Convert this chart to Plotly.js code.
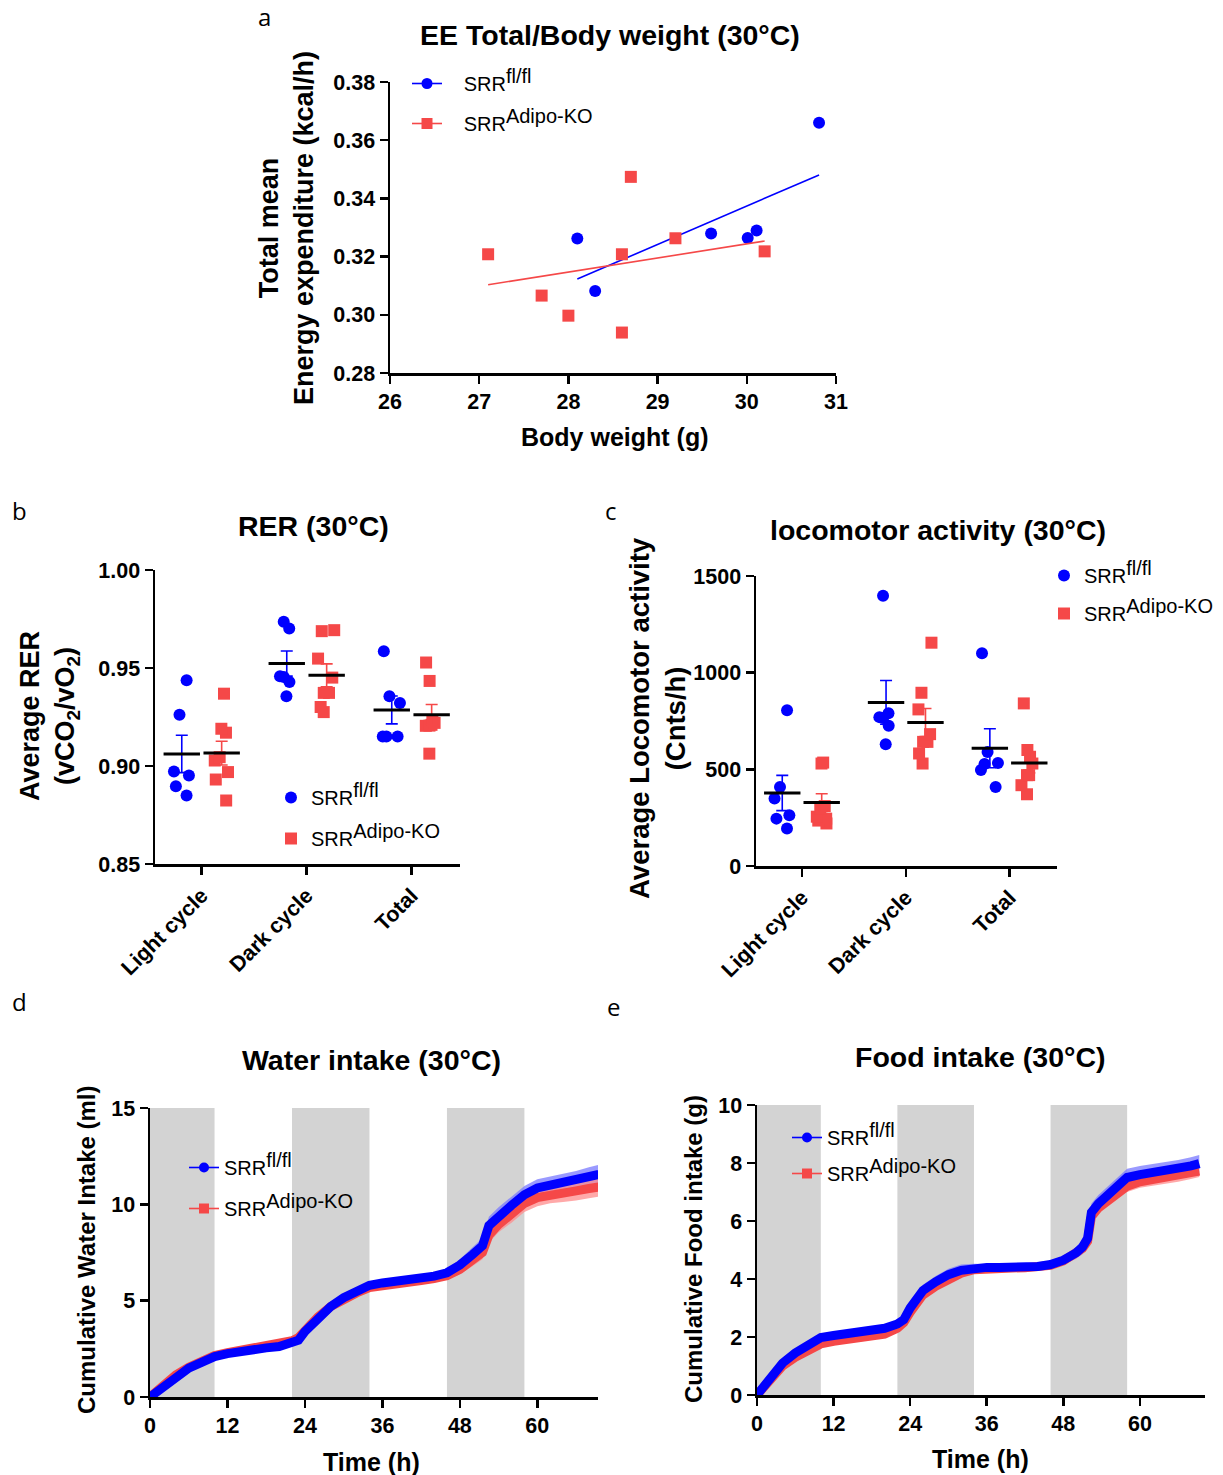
<!DOCTYPE html>
<html>
<head>
<meta charset="utf-8">
<script src="https://cdn.plot.ly/plotly-3.0.1.min.js"></script>
<style>html,body{margin:0;padding:0;background:#fff;}#chart{width:1223px;height:1475px;}</style>
</head>
<body>
<div id="chart"></div>
<script>
// ---------------- DATA ----------------
const seriesNames = ['SRR<sup><span style="font-size:20px">fl/fl</span></sup>', 'SRR<sup><span style="font-size:20px">Adipo-KO</span></sup>'];

// (a) EE total vs body weight
const eeBW_fl  = [28.10, 28.30, 29.60, 30.01, 30.11, 30.81];
const eeVal_fl = [0.3262, 0.3082, 0.3279, 0.3264, 0.3290, 0.3660];
const eeBW_ko  = [27.10, 27.70, 28.00, 28.60, 28.60, 28.70, 29.20, 30.20];
const eeVal_ko = [0.3208, 0.3066, 0.2997, 0.3208, 0.2939, 0.3474, 0.3263, 0.3218];
const eeXTicks = [26, 27, 28, 29, 30, 31];
const eeYTicks = [0.28, 0.30, 0.32, 0.34, 0.36, 0.38];

// (b) RER
const groupCats = ['Light cycle', 'Dark cycle', 'Total'];
const rer_fl_light = [0.9438, 0.9262, 0.8952, 0.8972, 0.8897, 0.8849];
const rer_ko_light = [0.9369, 0.9190, 0.9170, 0.9045, 0.9028, 0.8969, 0.8931, 0.8824];
const rer_fl_dark  = [0.9702, 0.9736, 0.9458, 0.9454, 0.9429, 0.9356];
const rer_ko_dark  = [0.9688, 0.9693, 0.9548, 0.9451, 0.9373, 0.9373, 0.9275, 0.9301];
const rer_fl_total = [0.9586, 0.9356, 0.9321, 0.9151, 0.9151, 0.9151];
const rer_ko_total = [0.9528, 0.9434, 0.9230, 0.9220, 0.9210, 0.9205, 0.9206, 0.9063];
const rerYTicks = [0.85, 0.90, 0.95, 1.00];

// (c) Locomotor activity
const loco_fl_light = [806, 409, 349, 263, 245, 194];
const loco_ko_light = [535, 530, 310, 295, 255, 245, 235, 220];
const loco_fl_dark  = [1398, 790, 770, 765, 725, 630];
const loco_ko_dark  = [1155, 896, 810, 682, 642, 642, 582, 530];
const loco_fl_total = [1100, 590, 533, 527, 496, 409];
const loco_ko_total = [841, 600, 565, 530, 470, 418, 371, 470];
const locoYTicks = [0, 500, 1000, 1500];

// (d) Cumulative water intake
const waterTime = [0,2,4,6,8,10,12,14,16,18,20,22,23,24,26,28,30,32,34,36,38,40,42,44,46,48,50,51.5,52.5,54,56,58,60,62,64,66,68,69.5];
const water_fl  = [0,0.55,1.1,1.5,1.8,2.1,2.25,2.38,2.47,2.55,2.62,2.8,2.95,3.4,4.1,4.7,5.15,5.5,5.8,5.92,6.0,6.08,6.17,6.27,6.45,6.85,7.4,7.85,8.9,9.4,9.95,10.5,10.85,11.0,11.12,11.25,11.42,11.55];
const water_fl_sem = [0,0.05,0.08,0.1,0.1,0.1,0.1,0.1,0.1,0.1,0.1,0.12,0.12,0.15,0.18,0.18,0.15,0.12,0.12,0.12,0.12,0.12,0.12,0.15,0.2,0.3,0.35,0.4,0.45,0.45,0.45,0.45,0.45,0.45,0.45,0.48,0.5,0.5];
const water_ko  = [0,0.58,1.15,1.55,1.85,2.15,2.3,2.43,2.53,2.62,2.72,2.92,3.08,3.45,4.15,4.7,5.1,5.4,5.68,5.8,5.88,5.96,6.05,6.15,6.3,6.62,7.1,7.5,8.4,8.95,9.5,10.05,10.35,10.5,10.6,10.7,10.82,10.9];
const water_ko_sem = [0,0.05,0.08,0.1,0.1,0.1,0.1,0.1,0.1,0.1,0.1,0.12,0.12,0.15,0.15,0.15,0.15,0.15,0.15,0.15,0.15,0.15,0.15,0.18,0.2,0.25,0.3,0.35,0.4,0.4,0.45,0.45,0.45,0.45,0.48,0.5,0.5,0.5];
const waterYTicks = [0, 5, 10, 15];

// (e) Cumulative food intake
const foodTime = [0,2,4,6,8,10,12,14,16,18,20,22,23,24,25,26,28,30,32,34,36,38,40,42,44,46,48,50,51,51.8,52.4,53.5,55,56.5,58,60,62,64,66,68,69.3];
const food_fl  = [0,0.6,1.1,1.45,1.75,1.98,2.05,2.1,2.15,2.2,2.3,2.45,2.6,3.0,3.3,3.6,3.9,4.15,4.3,4.38,4.4,4.4,4.4,4.41,4.43,4.5,4.65,4.9,5.1,5.4,6.3,6.6,6.9,7.2,7.5,7.6,7.66,7.72,7.8,7.9,7.98];
const food_fl_sem = [0,0.05,0.08,0.08,0.08,0.08,0.08,0.08,0.08,0.08,0.08,0.1,0.12,0.15,0.2,0.2,0.2,0.2,0.2,0.15,0.12,0.1,0.1,0.1,0.1,0.12,0.15,0.2,0.25,0.3,0.3,0.3,0.3,0.3,0.3,0.3,0.3,0.3,0.3,0.3,0.3];
const food_ko  = [0,0.55,1.0,1.3,1.55,1.76,1.85,1.9,1.95,2.0,2.1,2.3,2.5,2.85,3.15,3.45,3.75,4.0,4.2,4.32,4.36,4.37,4.38,4.39,4.4,4.47,4.62,4.85,5.05,5.3,6.15,6.45,6.7,6.95,7.2,7.35,7.42,7.48,7.55,7.65,7.72];
const food_ko_sem = [0,0.05,0.06,0.06,0.06,0.06,0.06,0.06,0.06,0.06,0.06,0.08,0.1,0.1,0.12,0.12,0.12,0.12,0.12,0.1,0.1,0.08,0.08,0.08,0.08,0.1,0.12,0.15,0.18,0.2,0.2,0.2,0.2,0.2,0.2,0.2,0.2,0.2,0.2,0.2,0.2];
const foodYTicks = [0, 2, 4, 6, 8, 10];
const timeTicks = [0, 12, 24, 36, 48, 60];
const darkPeriods = [[0, 10], [22, 34], [46, 58]];

// ---------------- STYLE ----------------
const W = 1223, H = 1475;
const px = x => x / W;
const py = y => 1 - y / H;
const BLUE = '#0000FF', RED = '#F54848';
const FONT = 'Liberation Sans, Arial, Helvetica, sans-serif';
const tickFont = {family: FONT, size: 21.5, color: '#000', weight: 'bold'};

function axis(domain, range, anchor, extra) {
  return Object.assign({
    domain: domain, range: range, anchor: anchor,
    showline: true, linewidth: 2.5, linecolor: '#000',
    ticks: 'outside', ticklen: 8, tickwidth: 2.5, tickcolor: '#000',
    showgrid: false, zeroline: false, fixedrange: true,
    tickfont: tickFont
  }, extra || {});
}

const mean = a => a.reduce((s, v) => s + v, 0) / a.length;
const sem = a => { const m = mean(a); return Math.sqrt(a.reduce((s, v) => s + (v - m) * (v - m), 0) / (a.length - 1) / a.length); };

const traces = [];

// ---- (a) scatter + linear fits
function fitLine(xs, ys) {
  const mx = mean(xs), my = mean(ys);
  let sxy = 0, sxx = 0;
  xs.forEach((x, i) => { sxy += (x - mx) * (ys[i] - my); sxx += (x - mx) * (x - mx); });
  const b = sxy / sxx, a0 = my - b * mx;
  const x0 = Math.min(...xs), x1 = Math.max(...xs);
  return {x: [x0, x1], y: [a0 + b * x0, a0 + b * x1]};
}
[[eeBW_fl, eeVal_fl, BLUE, 'circle'], [eeBW_ko, eeVal_ko, RED, 'square']].forEach(([xs, ys, col, sym], k) => {
  const f = fitLine(xs, ys);
  traces.push({type: 'scatter', mode: 'lines', x: f.x, y: f.y, xaxis: 'x', yaxis: 'y',
    line: {color: col, width: 1.6}, showlegend: false, hoverinfo: 'skip'});
  traces.push({type: 'scatter', mode: 'markers', x: xs, y: ys, xaxis: 'x', yaxis: 'y',
    marker: {color: col, size: 12, symbol: sym}, showlegend: false});
  traces.push({type: 'scatter', mode: 'lines+markers', x: [null], y: [null], xaxis: 'x', yaxis: 'y',
    name: '&nbsp;&nbsp;&nbsp;' + seriesNames[k], legend: 'legend', legendgroup: 'a' + k,
    line: {color: col, width: 1.6}, marker: {color: col, size: 11, symbol: sym}});
});

// ---- (b), (c) dot plots with mean ± SEM
function dotPanel(xa, ya, groupsFl, groupsKo, legendId) {
  const off = 0.19;
  [[groupsFl, BLUE, 'circle', -off], [groupsKo, RED, 'square', off]].forEach(([groups, col, sym, o], k) => {
    const xs = [], ys = [];
    groups.forEach((g, i) => g.forEach(v => { xs.push(i + o); ys.push(v); }));
    traces.push({type: 'box', x: xs, y: ys, xaxis: xa, yaxis: ya, width: 0.22,
      boxpoints: 'all', jitter: 0.8, pointpos: 0, line: {width: 0, color: 'rgba(0,0,0,0)'},
      fillcolor: 'rgba(0,0,0,0)', marker: {color: col, size: 12, symbol: sym}, showlegend: false, hoveron: 'points'});
    traces.push({type: 'scatter', mode: 'markers', xaxis: xa, yaxis: ya,
      x: groups.map((g, i) => i + o), y: groups.map(mean),
      error_y: {type: 'data', array: groups.map(sem), visible: true, color: col, thickness: 1.6, width: 6},
      marker: {symbol: 'line-ew', size: 26, color: '#000', line: {color: '#000', width: 3}},
      showlegend: false});
    traces.push({type: 'scatter', mode: 'markers', x: [null], y: [null], xaxis: xa, yaxis: ya,
      name: seriesNames[k], legend: legendId, legendgroup: legendId + k,
      marker: {color: col, size: 12, symbol: sym}});
  });
}
dotPanel('x2', 'y2', [rer_fl_light, rer_fl_dark, rer_fl_total], [rer_ko_light, rer_ko_dark, rer_ko_total], 'legend2');
dotPanel('x3', 'y3', [loco_fl_light, loco_fl_dark, loco_fl_total], [loco_ko_light, loco_ko_dark, loco_ko_total], 'legend3');

// ---- (d), (e) cumulative curves
function curvePanel(xa, ya, t, fl, flS, ko, koS, legendId) {
  const band = (m, s, col) => {
    traces.push({type: 'scatter', mode: 'lines', x: t, y: m.map((v, i) => v - s[i]), xaxis: xa, yaxis: ya,
      line: {width: 0, color: col}, showlegend: false, hoverinfo: 'skip'});
    traces.push({type: 'scatter', mode: 'lines', x: t, y: m.map((v, i) => v + s[i]), xaxis: xa, yaxis: ya,
      line: {width: 0, color: col}, fill: 'tonexty', fillcolor: col, showlegend: false, hoverinfo: 'skip'});
  };
  band(fl, flS, 'rgba(120,120,255,0.75)');
  band(ko, koS, 'rgba(255,140,140,0.75)');
  traces.push({type: 'scatter', mode: 'lines', x: t, y: ko, xaxis: xa, yaxis: ya,
    line: {color: RED, width: 9}, showlegend: false});
  traces.push({type: 'scatter', mode: 'lines', x: t, y: fl, xaxis: xa, yaxis: ya,
    line: {color: BLUE, width: 9}, showlegend: false});
  [[BLUE, 'circle'], [RED, 'square']].forEach(([col, sym], k) => {
    traces.push({type: 'scatter', mode: 'lines+markers', x: [null], y: [null], xaxis: xa, yaxis: ya,
      name: seriesNames[k], legend: legendId, legendgroup: legendId + k,
      line: {color: col, width: 1.6}, marker: {color: col, size: 10, symbol: sym}});
  });
}
curvePanel('x4', 'y4', waterTime, water_fl, water_fl_sem, water_ko, water_ko_sem, 'legend4');
curvePanel('x5', 'y5', foodTime, food_fl, food_fl_sem, food_ko, food_ko_sem, 'legend5');

// ---------------- LAYOUT ----------------
const shapes = [];
[['x4', 'y4', 15], ['x5', 'y5', 10]].forEach(([xa, ya, top]) => {
  darkPeriods.forEach(([a, b]) => shapes.push({type: 'rect', xref: xa, yref: ya, x0: a, x1: b, y0: 0, y1: top,
    fillcolor: '#D3D3D3', line: {width: 0}, layer: 'below'}));
});

function ann(text, x, y, size, bold, angle, family) {
  return {text: text, x: px(x), y: py(y), xref: 'paper', yref: 'paper', showarrow: false,
    xanchor: 'center', yanchor: 'middle', textangle: angle || 0,
    font: {family: family || FONT, size: size, color: '#000', weight: bold ? 'bold' : 'normal'}};
}
const LET = 'Open Sans, sans-serif';
const annotations = [
  ann('a', 264, 16, 24, false, 0, LET),
  ann('b', 19, 511, 24, false, 0, LET),
  ann('c', 611, 511, 24, false, 0, LET),
  ann('d', 19, 1002, 24, false, 0, LET),
  ann('e', 613, 1006, 24, false, 0, LET),
  ann('EE Total/Body weight (30°C)', 610, 35, 28.5, true),
  ann('Total mean<br>Energy expenditure (kcal/h)', 286, 228, 27, true, -90),
  ann('Body weight (g)', 614, 437, 25, true),
  ann('RER (30°C)', 313, 526, 28.5, true),
  ann('Average RER<br>(vCO<sub>2</sub>/vO<sub>2</sub>)', 49, 716, 27, true, -90),
  ann('locomotor activity (30°C)', 938, 530, 28.5, true),
  ann('Average Locomotor activity<br>(Cnts/h)', 657, 718, 27.5, true, -90),
  ann('Water intake (30°C)', 372, 1060, 28.5, true),
  ann('Cumulative Water Intake (ml)', 86, 1250, 24, true, -90),
  ann('Time (h)', 372, 1462, 25, true),
  ann('Food intake (30°C)', 980, 1057, 28.5, true),
  ann('Cumulative Food intake (g)', 693, 1249, 24, true, -90),
  ann('Time (h)', 980, 1459, 25, true)
];

function leg(x, y, gap) {
  return {x: px(x), y: py(y), xref: 'paper', yref: 'paper', xanchor: 'left', yanchor: 'top',
    bgcolor: 'rgba(0,0,0,0)', borderwidth: 0, traceorder: 'grouped', tracegroupgap: gap,
    font: {family: FONT, size: 20, color: '#000'}, itemclick: false, itemdoubleclick: false};
}

const layout = {
  width: W, height: H, margin: {l: 0, r: 0, t: 0, b: 0},
  paper_bgcolor: '#fff', plot_bgcolor: 'rgba(0,0,0,0)', showlegend: true,
  font: {family: FONT, color: '#000'},
  xaxis:  axis([px(390), px(836)], [26, 31], 'y', {tickvals: eeXTicks}),
  yaxis:  axis([py(373), py(82)], [0.28, 0.38], 'x', {tickvals: eeYTicks, tickformat: '.2f'}),
  xaxis2: axis([px(155), px(460)], [-0.445, 2.46], 'y2', {tickvals: [0, 1, 2], ticktext: groupCats, tickangle: -45}),
  yaxis2: axis([py(864), py(570)], [0.85, 1.00], 'x2', {tickvals: rerYTicks, tickformat: '.2f'}),
  xaxis3: axis([px(756), px(1057)], [-0.443, 2.457], 'y3', {tickvals: [0, 1, 2], ticktext: groupCats, tickangle: -45}),
  yaxis3: axis([py(866), py(576)], [0, 1500], 'x3', {tickvals: locoYTicks}),
  xaxis4: axis([px(150), px(598)], [0, 69.4], 'y4', {tickvals: timeTicks}),
  yaxis4: axis([py(1397), py(1108)], [0, 15], 'x4', {tickvals: waterYTicks}),
  xaxis5: axis([px(757), px(1205)], [0, 70.2], 'y5', {tickvals: timeTicks}),
  yaxis5: axis([py(1395), py(1105)], [0, 10], 'x5', {tickvals: foodYTicks}),
  legend:  leg(407, 64, 11),
  legend2: leg(271, 778, 12),
  legend3: leg(1044, 556, 9),
  legend4: leg(184, 1148, 12),
  legend5: leg(787, 1118, 7),
  shapes: shapes,
  annotations: annotations
};

Plotly.newPlot('chart', traces, layout, {displayModeBar: false, staticPlot: true});
</script>
</body>
</html>
